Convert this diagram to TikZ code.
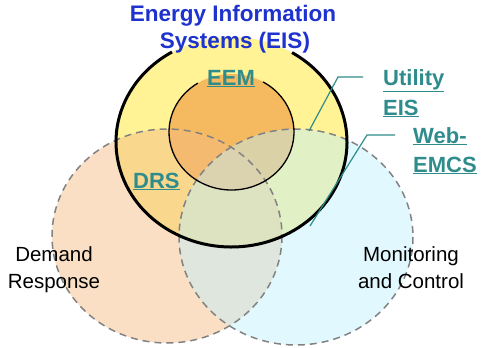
\documentclass[tikz,border=0pt]{standalone}
\usepackage{fontspec}
\setmainfont{Liberation Sans}
\definecolor{eisyellow}{RGB}{255,243,150}
\definecolor{eemorange}{RGB}{245,185,95}
\definecolor{drpeach}{RGB}{244,188,132}
\definecolor{moncyan}{RGB}{189,240,255}
\definecolor{titleblue}{RGB}{30,50,205}
\definecolor{labelteal}{RGB}{47,140,140}
\definecolor{dashgray}{RGB}{130,130,130}
\tikzset{
  titletext/.style={font=\fontsize{22.5}{27}\selectfont\bfseries, text=titleblue, inner sep=0pt, anchor=base},
  linklabel/.style={font=\fontsize{22}{26}\selectfont\bfseries, text=labelteal, inner sep=0pt, anchor=base west},
  areatext/.style={font=\fontsize{20.5}{25}\selectfont, text=black, inner sep=0pt, anchor=base},
  dashedring/.style={draw=dashgray, line width=1.5pt, dash pattern=on 7pt off 5pt},
  leader/.style={draw=labelteal, line width=1.2pt},
}
\begin{document}
\begin{tikzpicture}[x=1pt,y=-1pt]
\useasboundingbox (0,0) rectangle (482,348);
% centres
\coordinate (eisc) at (231.5,142);
\coordinate (eemc) at (231.5,132);
\coordinate (drc) at (167,236);
\coordinate (mcc) at (296,237);
% fills
\fill[eisyellow] (eisc) ellipse [x radius=115.5, y radius=105];
\fill[eemorange] (eemc) ellipse [x radius=62.5, y radius=58];
\fill[drpeach, fill opacity=0.48] (drc) ellipse [x radius=115, y radius=107];
\fill[moncyan, fill opacity=0.45] (mcc) ellipse [x radius=117, y radius=108];
% outlines
\draw[dashedring] (drc) ellipse [x radius=115, y radius=107];
\draw[dashedring] (mcc) ellipse [x radius=117, y radius=108];
\draw[black, line width=1.3pt] (eemc) ++(-59.7:62.5 and 58)
  arc [start angle=-59.7, end angle=237.4, x radius=62.5, y radius=58];
\draw[black, line width=3pt] (eisc) ++(-58.4:115.5 and 105)
  arc [start angle=-58.4, end angle=239, x radius=115.5, y radius=105];
% leader lines
\coordinate (utilA) at (363,77);
\coordinate (utilB) at (338,77);
\coordinate (utilC) at (309,131);
\coordinate (webA) at (395,135);
\coordinate (webB) at (367,135);
\coordinate (webC) at (310,226);
\draw[leader] (utilA) -- (utilB) -- (utilC);
\draw[leader] (webA) -- (webB) -- (webC);
% texts
\node[titletext] (title1) at (233,21) {Energy Information};
\node[titletext] (title2) at (235,48) {Systems (EIS)};
\node[linklabel] (eem) at (207,85) {\underline{EEM}};
\node[linklabel] (drs) at (133,188) {\underline{DRS}};
\node[linklabel] (util1) at (383,85) {\underline{Utility}};
\node[linklabel] (util2) at (383,115) {\underline{EIS}};
\node[linklabel] (web1) at (413,143) {\underline{Web-}};
\node[linklabel] (web2) at (413,172) {\underline{EMCS}};
\node[areatext] (dr1) at (54,261) {Demand};
\node[areatext] (dr2) at (54,288) {Response};
\node[areatext] (mc1) at (411,261) {Monitoring};
\node[areatext] (mc2) at (411,288) {and Control};
\end{tikzpicture}
\end{document}
